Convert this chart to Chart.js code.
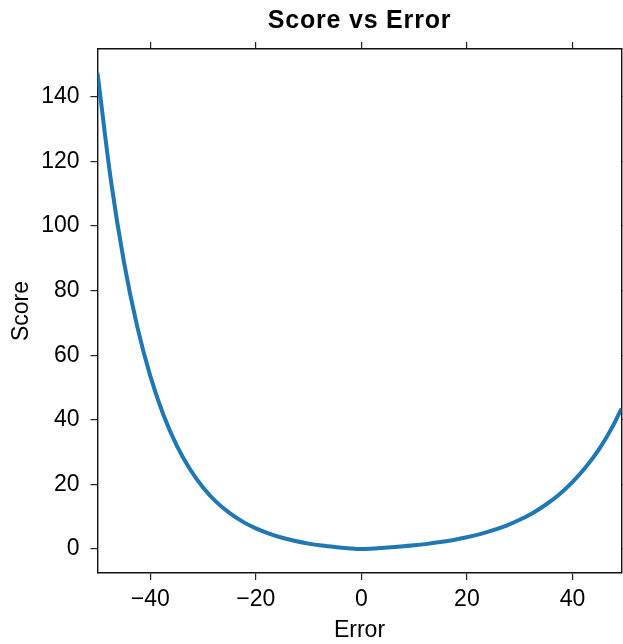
<!DOCTYPE html>
<html>
<head>
<meta charset="utf-8">
<script src="https://cdn.jsdelivr.net/npm/chart.js@4"></script>
<style>
  html, body { margin: 0; padding: 0; background: #fff; }
  #wrap { width: 623px; height: 644px; }
</style>
</head>
<body>
<div id="wrap"><canvas id="scoreChart" width="623" height="644"></canvas></div>
<script>
// --- 데이터 ---
const errorVals = [-50, -47.5, -45, -42.5, -40, -37.5, -35, -32.5, -30, -27.5, -25, -22.5, -20, -17.5, -15, -12.5, -10, -7.5, -5, -2.5,
                   0, 2.5, 5, 7.5, 10, 12.5, 15, 17.5, 20, 22.5, 25, 27.5, 30, 32.5, 35, 37.5, 40, 42.5, 45, 47.5, 49.3];
const scoreVals = [147.4, 114.6, 89.0, 69.1, 53.6, 41.5, 32.1, 24.8, 19.1, 14.6, 11.2, 8.5, 6.4, 4.8, 3.5, 2.5, 1.7, 1.1, 0.65, 0.28,
                   0, 0.21, 0.47, 0.78, 1.16, 1.62, 2.17, 2.84, 3.66, 4.65, 5.85, 7.29, 9.07, 11.2, 13.8, 16.9, 20.7, 25.3, 30.8, 37.6, 43.5];
const xTicks = [-40, -20, 0, 20, 40];
const yTicks = [0, 20, 40, 60, 80, 100, 120, 140];

const FONT = "'Liberation Sans', Arial, Helvetica, sans-serif";
const fmt = v => v < 0 ? '\u2212' + Math.abs(v) : String(v);

// 제목은 차트 영역 가운데에 직접 그림
const titlePlugin = {
    id: 'plotTitle',
    afterDraw(chart) {
        const { ctx, chartArea } = chart;
        ctx.save();
        ctx.font = 'bold 25px ' + FONT;
        if ('letterSpacing' in ctx) ctx.letterSpacing = '0.8px';
        ctx.fillStyle = '#000';
        ctx.textAlign = 'center';
        ctx.textBaseline = 'alphabetic';
        ctx.fillText('Score vs Error', (chartArea.left + chartArea.right) / 2, 27.5);
        ctx.restore();
    }
};

const frameGrid = { drawOnChartArea: false, drawTicks: true, tickLength: 7, color: '#222', lineWidth: 1.2 };
const frameBorder = { display: true, color: '#111', width: 1.4 };

new Chart(document.getElementById('scoreChart').getContext('2d'), {
    type: 'line',
    data: {
        labels: errorVals,
        datasets: [{
            data: errorVals.map((x, i) => ({ x: x, y: scoreVals[i] })),
            borderColor: '#1f77b4',
            borderWidth: 4,
            pointRadius: 0,
            fill: false,
            cubicInterpolationMode: 'monotone'
        }]
    },
    options: {
        responsive: false,
        animation: false,
        layout: { padding: { top: 42, right: 1.5, left: 0, bottom: 0 } },
        plugins: { legend: { display: false }, tooltip: { enabled: false }, title: { display: false } },
        scales: {
            x: {
                type: 'linear', position: 'bottom', min: -50, max: 49.3,
                afterBuildTicks: s => { s.ticks = xTicks.map(v => ({ value: v })); },
                afterFit: s => { s.height = 71; },
                grid: frameGrid, border: frameBorder,
                ticks: { color: '#000', font: { family: FONT, size: 23 }, padding: 6, maxRotation: 0, callback: v => fmt(v) },
                title: { display: true, text: 'Error', color: '#000', font: { family: FONT, size: 23 }, padding: { top: 0, bottom: 0 } }
            },
            xTop: {
                type: 'linear', position: 'top', min: -50, max: 49.3,
                afterBuildTicks: s => { s.ticks = xTicks.map(v => ({ value: v })); },
                afterFit: s => { s.height = 7; },
                grid: frameGrid, border: frameBorder,
                ticks: { display: false }
            },
            y: {
                type: 'linear', position: 'left', min: -7.4, max: 154.8,
                afterBuildTicks: s => { s.ticks = yTicks.map(v => ({ value: v })); },
                afterFit: s => { s.width = 97.5; },
                grid: frameGrid, border: frameBorder,
                ticks: { color: '#000', font: { family: FONT, size: 23 }, padding: 11, callback: v => fmt(v) },
                title: { display: true, text: 'Score', color: '#000', font: { family: FONT, size: 23 }, padding: { top: 8, bottom: 0 } }
            },
            yRight: {
                type: 'linear', position: 'right', min: -7.4, max: 154.8,
                afterBuildTicks: s => { s.ticks = yTicks.map(v => ({ value: v })); },
                afterFit: s => { s.width = 0; },
                grid: frameGrid, border: frameBorder,
                ticks: { display: false }
            }
        }
    },
    plugins: [titlePlugin]
});
</script>
</body>
</html>
